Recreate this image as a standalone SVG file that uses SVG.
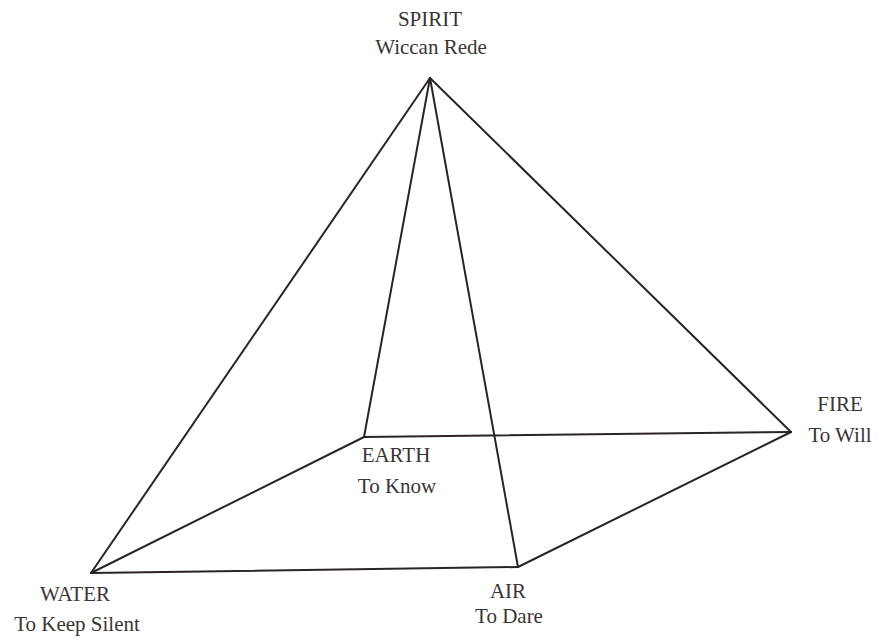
<svg xmlns="http://www.w3.org/2000/svg" width="878" height="639" viewBox="0 0 878 639">
<style>
.bg{fill:#ffffff}
.edge{stroke:#2b2424;stroke-width:2;fill:none;stroke-linejoin:round;stroke-linecap:round}
.lbl{font-family:"Liberation Serif","Times New Roman",serif;font-size:21px;fill:#3a3535;text-anchor:middle}
</style>
<rect class="bg" x="0" y="0" width="878" height="639"/>
<g id="connectors">
<line class="edge" x1="430" y1="78" x2="91" y2="573"/>
<line class="edge" x1="430" y1="78" x2="364" y2="437"/>
<line class="edge" x1="430" y1="78" x2="518" y2="567"/>
<line class="edge" x1="430" y1="78" x2="791" y2="432"/>
<line class="edge" x1="91" y1="573" x2="364" y2="437"/>
<line class="edge" x1="364" y1="437" x2="791" y2="432"/>
<line class="edge" x1="791" y1="432" x2="518" y2="567"/>
<line class="edge" x1="518" y1="567" x2="91" y2="573"/>
</g>
<g id="spirit">
<text class="lbl" x="430" y="26">SPIRIT</text>
<text class="lbl" x="431" y="54">Wiccan Rede</text>
</g>
<g id="earth">
<text class="lbl" x="396" y="462">EARTH</text>
<text class="lbl" x="397" y="493">To Know</text>
</g>
<g id="fire">
<text class="lbl" x="840" y="411">FIRE</text>
<text class="lbl" x="840" y="442">To Will</text>
</g>
<g id="water">
<text class="lbl" x="75" y="601">WATER</text>
<text class="lbl" x="77" y="631">To Keep Silent</text>
</g>
<g id="air">
<text class="lbl" x="508" y="598">AIR</text>
<text class="lbl" x="509" y="623">To Dare</text>
</g>
</svg>
